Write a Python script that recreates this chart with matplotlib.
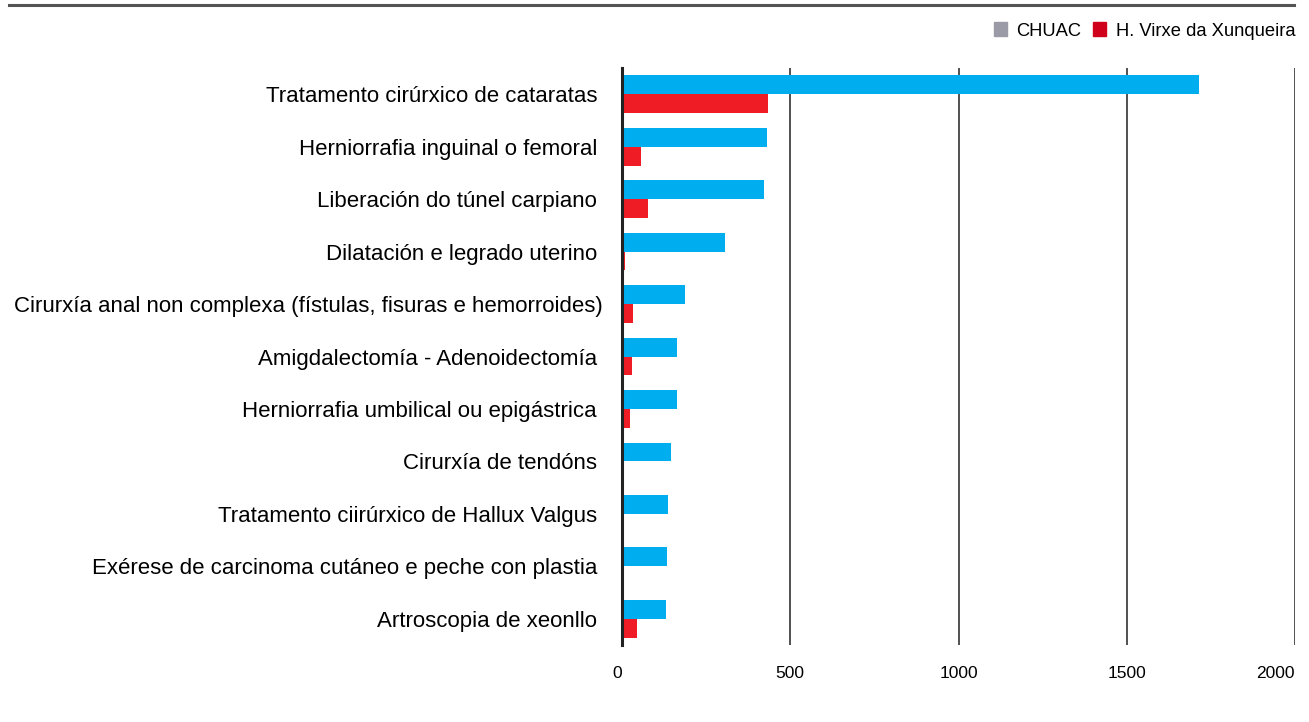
import matplotlib
matplotlib.use("Agg")
import matplotlib.pyplot as plt
from matplotlib.patches import Patch
from matplotlib.lines import Line2D
import matplotlib.transforms as mtransforms
import numpy as np

categories = [
    "Tratamento cirúrxico de cataratas",
    "Herniorrafia inguinal o femoral",
    "Liberación do túnel carpiano",
    "Dilatación e legrado uterino",
    "Cirurxía anal non complexa (fístulas, fisuras e hemorroides)",
    "Amigdalectomía - Adenoidectomía",
    "Herniorrafia umbilical ou epigástrica",
    "Cirurxía de tendóns",
    "Tratamento ciirúrxico de Hallux Valgus",
    "Exérese de carcinoma cutáneo e peche con plastia",
    "Artroscopia de xeonllo",
]
chuac = [1715, 431, 423, 307, 187, 162, 162, 146, 137, 134, 131]
xunqueira = [434, 57, 77, 8, 33, 30, 24, 0, 0, 0, 45]
series_names = ["CHUAC", "H. Virxe da Xunqueira"]
xticks = [0, 500, 1000, 1500, 2000]

plt.rcParams['font.family'] = ['Liberation Sans', 'DejaVu Sans']

fig = plt.figure(figsize=(13.09, 7.22), dpi=100)
ax = fig.add_axes([622/1309, 1-645/722, (1295-622)/1309, (645-68)/722])

y = np.arange(len(categories))
h = 0.36
ax.barh(y - h/2, chuac, height=h, color="#00aeef", zorder=3)
ax.barh(y + h/2, xunqueira, height=h, color="#ef1c25", zorder=3)

ax.set_xlim(0, 2000)
ax.set_ylim(len(categories) - 0.5, -0.5)
ax.set_xticks(xticks)
ax.set_xticklabels([str(t) for t in xticks], fontsize=12.5)
labels = ax.get_xticklabels()
labels[0].set_ha('right')
labels[-1].set_ha('right')
ax.set_yticks(y)
ax.set_yticklabels(categories, fontsize=16)
ax.tick_params(axis='both', length=0)
ax.tick_params(axis='y', pad=18)
ax.tick_params(axis='x', pad=15)
# the long label overflows slightly to the right in the reference
ylabels = ax.get_yticklabels()
ylabels[4].set_transform(ylabels[4].get_transform() +
                         mtransforms.ScaledTranslation(6/100, 0, fig.dpi_scale_trans))
for s in ["top", "right", "bottom"]:
    ax.spines[s].set_visible(False)
ax.spines["left"].set_linewidth(2.2)
ax.spines["left"].set_color("#222222")
ax.spines["left"].set_zorder(5)
for t in xticks[1:]:
    ax.axvline(t, color="#333333", lw=1.2, zorder=1)

# top rule
fig.add_artist(Line2D([9/1309, 1294/1309], [1-5/722, 1-5/722], color="#555555", lw=2.2))

handles = [Patch(color="#9b9ba8"), Patch(color="#d0021b")]
fig.legend(handles, series_names, loc="center right", bbox_to_anchor=(1295/1309, 1-31/722),
           ncol=2, frameon=False, fontsize=13.2, handlelength=0.75, handleheight=0.75,
           handletextpad=0.5, columnspacing=0.6, borderaxespad=0, borderpad=0)

fig.savefig("out.png", dpi=100)
